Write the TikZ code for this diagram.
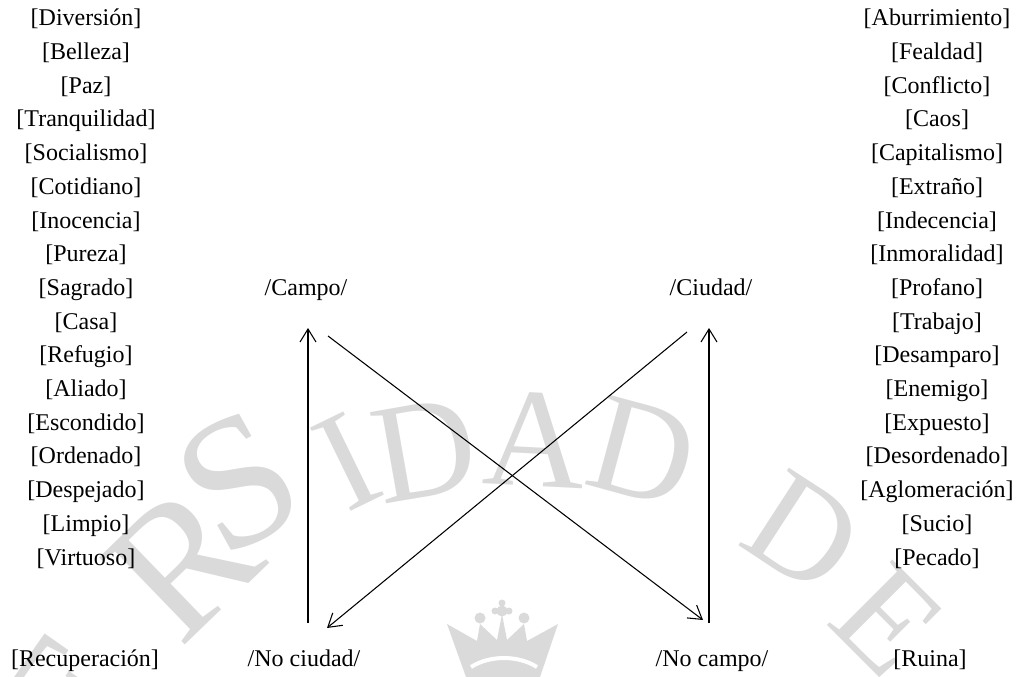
\documentclass[tikz,border=0pt]{standalone}
\usepackage{fontspec}
\setmainfont{Liberation Serif}
\usetikzlibrary{arrows.meta}
\definecolor{wmgray}{RGB}{218,218,218}
\newcommand\lblsize{\fontsize{18pt}{18pt}\selectfont}
\newcommand\wmsize{\fontsize{106pt}{106pt}\selectfont}
\newcommand\wmbig{\fontsize{140pt}{140pt}\selectfont}
\tikzset{
  lbl/.style={inner sep=0pt, font=\lblsize, text height=0.7em, text depth=0.2em},
  wm/.style={inner sep=0pt, text=wmgray, font=\wmsize},
  wmb/.style={inner sep=0pt, text=wmgray, font=\wmbig},
  arr/.style={line width=0.8pt, -{Straight Barb[length=9.75pt,width=12pt,line width=0.8pt]}}
}
\begin{document}
\begin{tikzpicture}[x=0.75pt,y=-0.75pt]
\useasboundingbox (0,0) rectangle (1017,677);
% watermark
\begin{scope}
\clip (0,0) rectangle (1017,677);
\node[wmb,rotate=55] (wE1) at (72,702) {E};
\node[wmb,rotate=44] (wR)  at (183,562) {R};
\node[wmb,rotate=29] (wS)  at (238,482) {S};
\node[wm,rotate=26]  (wI)  at (347,462) {I};
\node[wm,rotate=10]  (wD1) at (425,450) {D};
\node[wm,rotate=-3]  (wA)  at (535,440) {A};
\node[wm,rotate=-15] (wD2) at (643,452) {D};
\node[wm,rotate=-33] (wD3) at (803,533) {D};
\node[wm,rotate=-45] (wE2) at (888,620) {E};
% crown
\fill[wmgray] (447,624) -- (477,641) -- (480,624) -- (497,640) -- (502,614)
  -- (507,640) -- (524,624) -- (527,641) -- (558,624) -- (540,677) -- (466,677) -- cycle;
\fill[wmgray] (480,618) circle (5.5) (524,618) circle (5.5) (502,611) circle (5.5)
  (502,603) circle (3.5) (495,611) circle (3.5) (509,611) circle (3.5);
\draw[white,line width=3pt] (471,667) .. controls (490,655) and (518,655) .. (537,667);
\end{scope}
% left column
\foreach \t [count=\i from 0] in {Diversión,Belleza,Paz,Tranquilidad,Socialismo,Cotidiano,Inocencia,Pureza,Sagrado,Casa,Refugio,Aliado,Escondido,Ordenado,Despejado,Limpio,Virtuoso}
  \node[lbl] (L\i) at (86,{22.5+33.7*\i}) {[\t]};
% right column
\foreach \t [count=\i from 0] in {Aburrimiento,Fealdad,Conflicto,Caos,Capitalismo,Extraño,Indecencia,Inmoralidad,Profano,Trabajo,Desamparo,Enemigo,Expuesto,Desordenado,Aglomeración,Sucio,Pecado}
  \node[lbl] (R\i) at (937,{22.5+33.7*\i}) {[\t]};
\node[lbl] (recup) at (85,662.8) {[Recuperación]};
\node[lbl] (ruina) at (930,662.8) {[Ruina]};
% square
\node[lbl] (campo)  at (306,292.1) {/Campo/};
\node[lbl] (ciudad) at (711,292.1) {/Ciudad/};
\node[lbl] (nociu)  at (304,662.8) {/No ciudad/};
\node[lbl] (nocam)  at (712,662.8) {/No campo/};
\coordinate (v1a) at (308,623);
\coordinate (v1b) at (308,328);
\coordinate (v2a) at (709,623);
\coordinate (v2b) at (709,328);
\coordinate (d1a) at (328,336);
\coordinate (d1b) at (703,620);
\coordinate (d2a) at (687,332);
\coordinate (d2b) at (327,628);
\draw[arr] (v1a) -- (v1b);
\draw[arr] (v2a) -- (v2b);
\draw[arr] (d1a) -- (d1b);
\draw[arr] (d2a) -- (d2b);
\end{tikzpicture}
\end{document}
